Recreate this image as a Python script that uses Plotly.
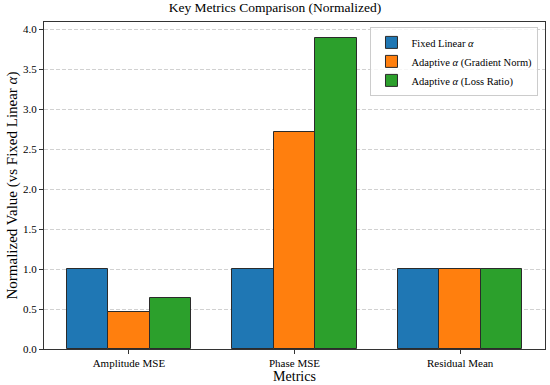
import plotly.graph_objects as go

categories = ["Amplitude MSE", "Phase MSE", "Residual Mean"]
series_names = ["Fixed Linear <i>α</i>", "Adaptive <i>α</i> (Gradient Norm)", "Adaptive <i>α</i> (Loss Ratio)"]
fixed_linear = [1.0, 1.0, 1.0]
adaptive_grad = [0.46, 2.72, 1.0]
adaptive_loss = [0.64, 3.90, 1.0]
colors = ["#1f77b4", "#ff7f0e", "#2ca02c"]
y_ticks = [0.0, 0.5, 1.0, 1.5, 2.0, 2.5, 3.0, 3.5, 4.0]

SERIF = "Liberation Serif, Times New Roman, DejaVu Serif, serif"

fig = go.Figure()
width = 0.25
xs = list(range(len(categories)))
for i, (name, vals) in enumerate(zip(series_names, [fixed_linear, adaptive_grad, adaptive_loss])):
    fig.add_trace(go.Bar(
        x=[x + (i - 1) * width for x in xs], y=vals, name=name, width=width,
        marker=dict(color=colors[i], line=dict(color="#2b2b2b", width=1)),
    ))

fig.update_layout(
    width=550, height=385,
    margin=dict(l=44, r=5, t=22, b=36, autoexpand=False),
    paper_bgcolor="white", plot_bgcolor="white",
    font=dict(family=SERIF, color="black", size=11),
    title=dict(text="Key Metrics Comparison (Normalized)", x=0.5, xanchor="center",
               yref="container", y=0.993, yanchor="top", font=dict(size=13.5, family=SERIF)),
    showlegend=True,
    legend=dict(x=0.987, xanchor="right", y=0.985, yanchor="top",
                bgcolor="rgba(255,255,255,0.8)", bordercolor="#cccccc", borderwidth=1,
                font=dict(size=10.5, family=SERIF), tracegroupgap=0, itemwidth=30),
    bargap=0,
)
fig.update_xaxes(
    range=[-0.5125, 2.5125], tickvals=xs, ticktext=categories, automargin=True,
    showline=True, linecolor="#333", linewidth=1, mirror=True,
    ticks="outside", ticklen=4, tickcolor="#333", showgrid=False,
    title=dict(text="Metrics", font=dict(size=14, family=SERIF), standoff=2),
    tickfont=dict(size=11, family=SERIF),
)
fig.update_yaxes(
    range=[0, 4.095], tickvals=y_ticks, tickformat=".1f", automargin=True,
    showline=True, linecolor="#333", linewidth=1, mirror=True,
    ticks="outside", ticklen=4, tickcolor="#333",
    showgrid=True, gridcolor="rgba(190,190,190,0.7)", griddash="4px,2px", gridwidth=0.8,
    zeroline=False,
    title=dict(text="Normalized Value (vs Fixed Linear <i>α</i>)", font=dict(size=15, family=SERIF), standoff=1),
    tickfont=dict(size=11, family=SERIF),
)
fig.write_html("out.html", config={"displayModeBar": False},
               post_script="document.body.style.margin='0';")
